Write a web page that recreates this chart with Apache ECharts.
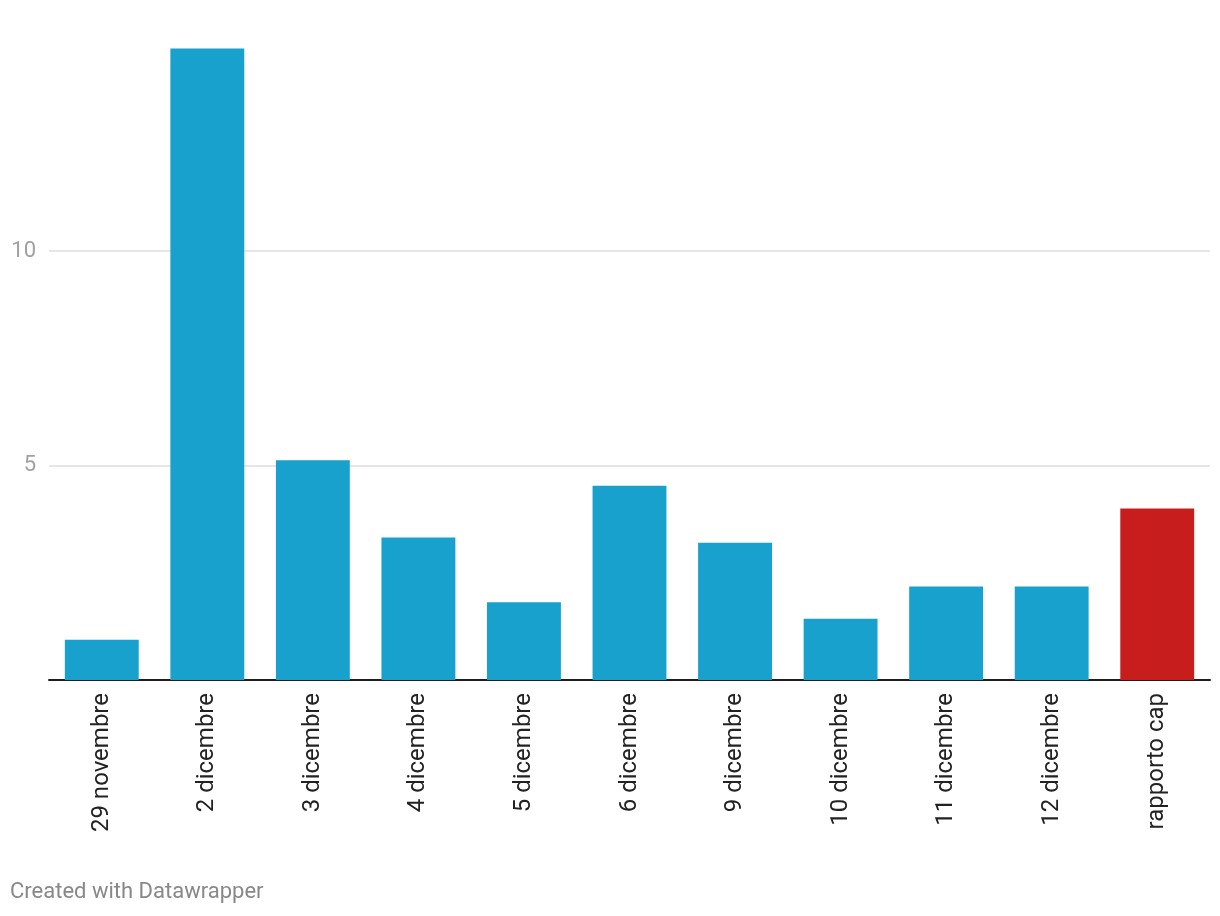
<!DOCTYPE html>
<html>
<head>
<meta charset="utf-8">
<script src="https://cdn.jsdelivr.net/npm/echarts@6/dist/echarts.min.js"></script>
<style>
  html, body { margin: 0; padding: 0; background: #fff; }
  #chart { width: 1220px; height: 916px; }
</style>
</head>
<body>
<div id="chart"></div>
<script>
// giorni / valori
var categories = ['29 novembre', '2 dicembre', '3 dicembre', '4 dicembre', '5 dicembre', '6 dicembre',
  '9 dicembre', '10 dicembre', '11 dicembre', '12 dicembre', 'rapporto cap'];
var values = [0.94, 14.72, 5.12, 3.32, 1.81, 4.53, 3.2, 1.43, 2.18, 2.18, 4.0];
var highlighted = ['rapporto cap'];

var chart = echarts.init(document.getElementById('chart'));

var option = {
  backgroundColor: '#fff',
  animation: false,
  textStyle: { fontFamily: 'Roboto' },
  title: {
    text: 'Created with Datawrapper',
    left: 5,
    top: 876,
    textStyle: { color: '#888', fontSize: 22, fontWeight: 'normal', fontFamily: 'Roboto' }
  },
  grid: { left: 49, right: 10, top: 36.5, bottom: 236 },
  xAxis: {
    type: 'category',
    data: categories,
    axisLine: { show: true, lineStyle: { color: '#1d1d1d', width: 2 } },
    axisTick: { show: false },
    axisLabel: {
      rotate: 90,
      margin: 13,
      color: '#222',
      fontSize: 24,
      fontFamily: 'Roboto'
    }
  },
  yAxis: {
    type: 'value',
    min: 0,
    max: 15,
    interval: 5,
    axisLine: { show: false },
    axisTick: { show: false },
    axisLabel: {
      showMinLabel: false,
      showMaxLabel: false,
      margin: 13,
      color: '#a0a0a0',
      fontSize: 22,
      fontFamily: 'Roboto'
    },
    splitLine: {
      showMinLine: false,
      showMaxLine: false,
      lineStyle: { color: '#e6e6e6', width: 2 }
    }
  },
  series: [{
    type: 'bar',
    barCategoryGap: '30%',
    data: values.map(function (v, i) {
      var red = highlighted.indexOf(categories[i]) >= 0;
      return { value: v, itemStyle: { color: red ? '#c71e1d' : '#18a1cd' } };
    })
  }]
};

chart.setOption(option);
</script>
</body>
</html>
